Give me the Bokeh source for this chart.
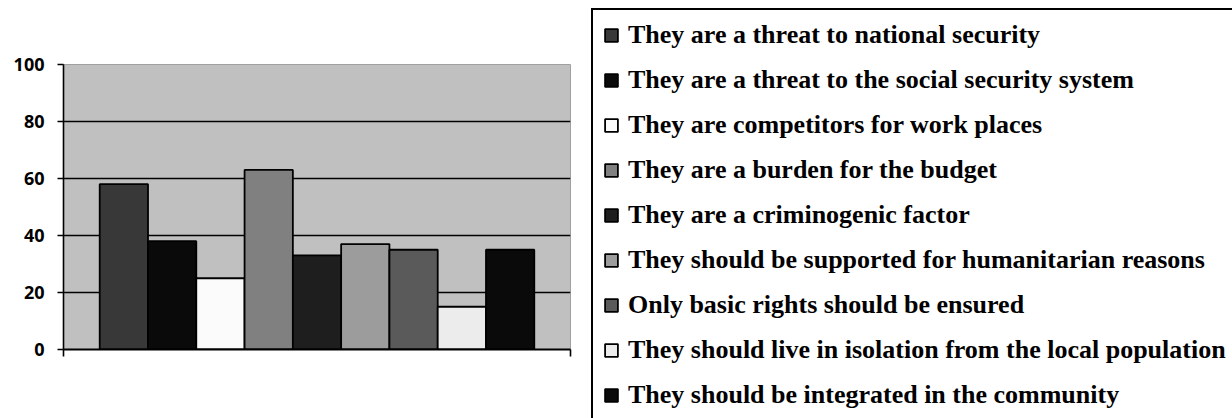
from bokeh.plotting import figure
from bokeh.models import Legend, LegendItem, FixedTicker, Range1d
from bokeh.embed import file_html
from bokeh.resources import INLINE

# ---- data ----
series = [
    "They are a threat to national security",
    "They are a threat to the social security system",
    "They are competitors for work places",
    "They are a burden for the budget",
    "They are a criminogenic factor",
    "They should be supported for humanitarian reasons",
    "Only basic rights should be ensured",
    "They should live in isolation from the local population",
    "They should be integrated in the community",
]
values = [58, 38, 25, 63, 33, 37, 35, 15, 35]
colors = ["#383838", "#0a0a0a", "#fbfbfb", "#808080", "#1e1e1e",
          "#9c9c9c", "#5a5a5a", "#ececec", "#0a0a0a"]
y_ticks = [0, 20, 40, 60, 80, 100]
grid_ticks = [20, 40, 60, 80]

x_start, x_end = -0.75, len(series) + 0.75

W, H = 1216, 402
p = figure(
    frame_width=507, frame_height=285,
    min_border_left=63, min_border_top=64, min_border_right=W - 63 - 507,
    min_border_bottom=H - 64 - 285,
    x_range=Range1d(x_start, x_end), y_range=Range1d(0, 100),
    output_backend="svg", toolbar_location=None,
    background_fill_color="#c0c0c0", border_fill_color="white",
    outline_line_color="#a0a0a0", outline_line_width=1,
)

items = []
for i, (name, v, c) in enumerate(zip(series, values, colors)):
    r = p.vbar(x=[i + 0.5], top=[v], bottom=0, width=1.0,
               fill_color=c, line_color="black", line_width=1.8)
    items.append(LegendItem(label=name, renderers=[r]))

# grid
p.xgrid.visible = False
p.ygrid.ticker = FixedTicker(ticks=grid_ticks)
p.ygrid.grid_line_color = "black"
p.ygrid.grid_line_width = 1.6

# y axis
ya = p.yaxis[0]
ya.ticker = FixedTicker(ticks=y_ticks)
ya.axis_line_color = "black"
ya.axis_line_width = 1.6
ya.major_tick_line_color = "black"
ya.major_tick_line_width = 1.6
ya.major_tick_in = 0
ya.major_tick_out = 6
ya.minor_tick_line_color = None
ya.major_label_standoff = 13
ya.major_label_text_font = "Open Sans"
ya.major_label_text_font_style = "bold"
ya.major_label_text_font_size = "18px"
ya.major_label_text_color = "black"

# x axis (category axis with end ticks only)
xa = p.xaxis[0]
xa.ticker = FixedTicker(ticks=[x_start, x_end])
xa.major_label_overrides = {x_start: " ", x_end: " "}
xa.major_label_text_font_size = "1px"
xa.axis_line_color = "black"
xa.axis_line_width = 2
xa.major_tick_line_color = "black"
xa.major_tick_line_width = 1.6
xa.major_tick_in = 0
xa.major_tick_out = 7
xa.minor_tick_line_color = None

legend = Legend(
    items=items,
    location=(21, -73),
    orientation="vertical",
    label_text_font="Liberation Serif",
    label_text_font_style="bold",
    label_text_font_size="26px",
    label_text_color="black",
    label_standoff=9,
    label_height=30,
    label_width=680,
    glyph_width=16,
    glyph_height=16,
    spacing=15,
    padding=10,
    margin=-30,
    border_line_color="black",
    border_line_width=2,
    border_line_alpha=1,
    background_fill_color="white",
    background_fill_alpha=1,
)
p.add_layout(legend, "right")

open("out.html", "w").write(file_html(p, INLINE))
